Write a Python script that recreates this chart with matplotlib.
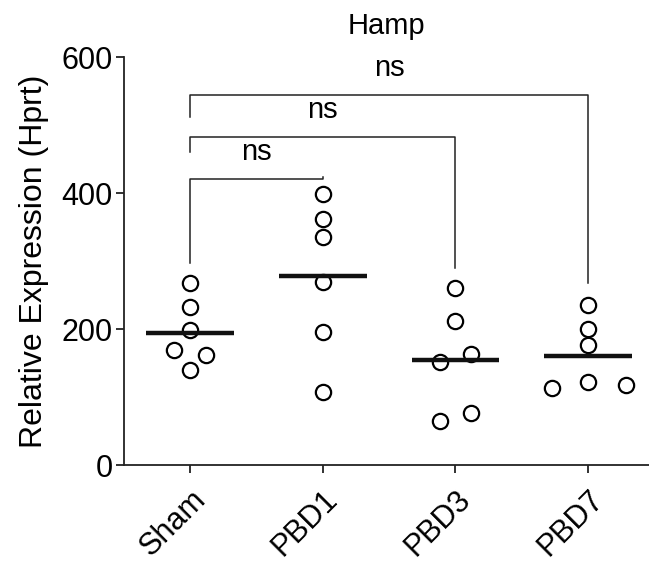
import matplotlib.pyplot as plt
import numpy as np

plt.rcParams['font.family'] = ['Liberation Sans', 'DejaVu Sans']

groups = ['Sham', 'PBD1', 'PBD3', 'PBD7']
values = [
    [268, 232, 199, 170, 162, 140],
    [399, 362, 336, 269, 196, 108],
    [260, 212, 152, 163, 65, 77],
    [236, 201, 177, 122, 113, 118],
]
# horizontal offsets of each point (scatter spread)
offsets = [
    [0, 0, 0, -0.12, 0.12, 0],
    [0, 0, 0, 0, 0, 0],
    [0, 0, -0.12, 0.12, -0.12, 0.12],
    [0, 0, 0, 0, -0.27, 0.29],
]
# comparisons: (group a, group b, bar height, left end, right end, label)
comparisons = [
    (0, 1, 421, 297, 424, 'ns'),
    (0, 2, 482, 460, 290, 'ns'),
    (0, 3, 544, 512, 268, 'ns'),
]

fig = plt.figure(figsize=(6.49, 5.66), dpi=100)
ax = fig.add_axes([0.191, 0.178, 0.809, 0.721])

for i, (vals, offs) in enumerate(zip(values, offsets)):
    x = i + np.array(offs)
    ax.plot(x, vals, 'o', ms=11, mfc='white', mec='black', mew=1.6, zorder=3)
    m = np.mean(vals)
    ax.plot([i - 0.33, i + 0.33], [m, m], color='#111111', lw=3.2, zorder=4,
            solid_capstyle='butt')

for a, b, h, la, lb, lab in comparisons:
    ax.plot([a, a, b, b], [la, h, h, lb], color='#222222', lw=1.1)
    ax.text((a + b) / 2, h + 28, lab, ha='center', va='baseline', fontsize=21)

ax.set_xlim(-0.5, 3.46)
ax.set_ylim(0, 600)
ax.set_yticks([0, 200, 400, 600])
ax.set_xticks(range(len(groups)))
ax.set_xticklabels(groups, rotation=45, ha='right', rotation_mode='anchor')
ax.tick_params(labelsize=22, width=1.3, length=6, color='#222222')
ax.tick_params(axis='y', pad=2)
ax.tick_params(axis='x', pad=8)
ax.set_ylabel('Relative Expression (Hprt)', fontsize=23, labelpad=9)
ax.set_title('Hamp', fontsize=21, pad=17)
for s in ['top', 'right']:
    ax.spines[s].set_visible(False)
for s in ['left', 'bottom']:
    ax.spines[s].set_linewidth(1.3)
    ax.spines[s].set_color('#222222')

fig.savefig('out.png', dpi=100)
